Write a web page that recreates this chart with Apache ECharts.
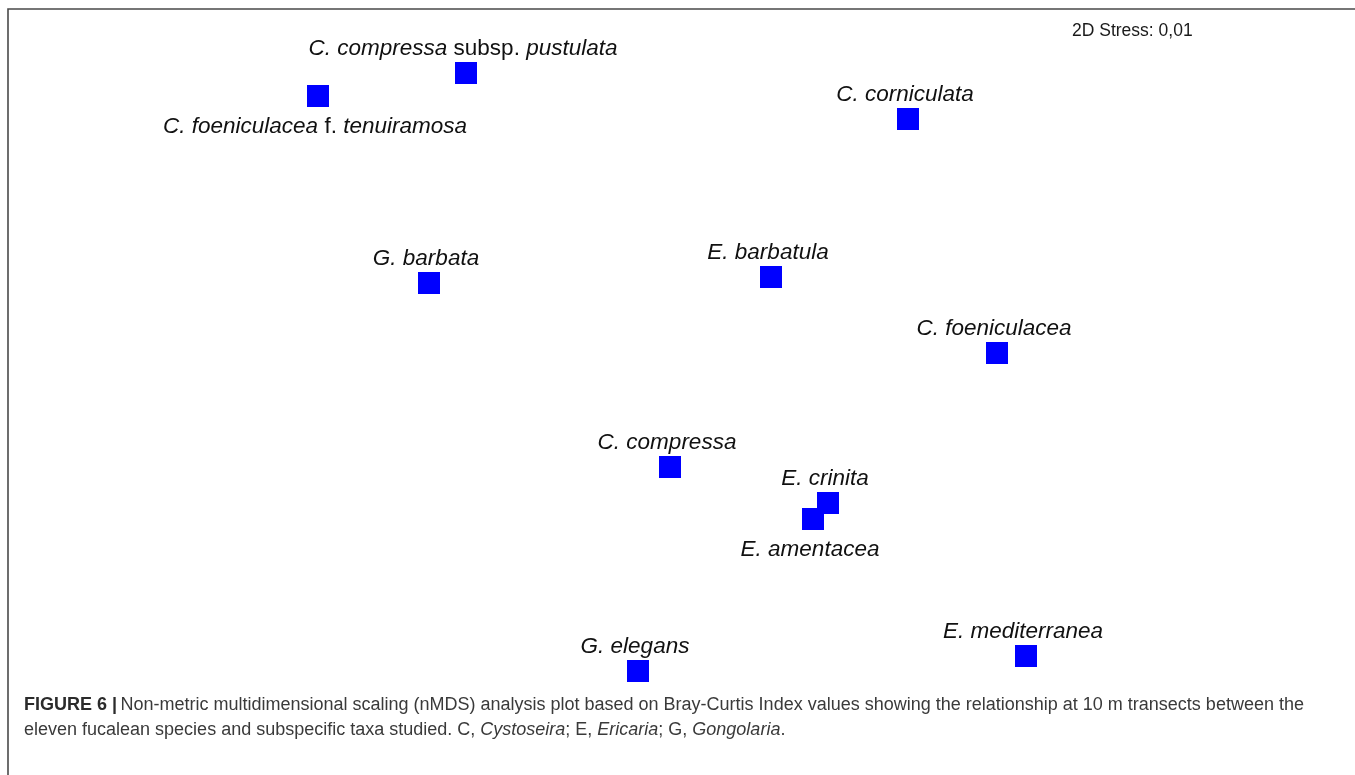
<!DOCTYPE html>
<html>
<head>
<meta charset="utf-8">
<title>nMDS fucalean species</title>
<script src="https://cdn.jsdelivr.net/npm/echarts@6/dist/echarts.min.js"></script>
<style>
  html, body { margin: 0; padding: 0; background: #fff; }
  #chart { width: 1355px; height: 775px; }
</style>
</head>
<body>
<div id="chart"></div>
<script>
// nMDS ordination scores (Bray-Curtis, 10 m transects)
const taxa = [
  'C. foeniculacea f. tenuiramosa',
  'C. compressa subsp. pustulata',
  'C. corniculata',
  'G. barbata',
  'E. barbatula',
  'C. foeniculacea',
  'C. compressa',
  'E. crinita',
  'E. amentacea',
  'G. elegans',
  'E. mediterranea'
];
const mds1 = [-0.664, -0.368, 0.516, -0.442, 0.242, 0.694, 0.040, 0.356, 0.326, -0.024, 0.752];
const mds2 = [0.588, 0.634, 0.542, 0.214, 0.226, 0.074, -0.154, -0.226, -0.258, -0.562, -0.532];
const stressText = '2D Stress: 0,01';

// taxa whose name is printed beneath the symbol
const labelsBelow = ['C. foeniculacea f. tenuiramosa', 'E. amentacea'];

// rank words stay upright, names in italics
function richName(name) {
  return name.split(' ').map(function (w) {
    return (w === 'subsp.' || w === 'f.') ? '{n|' + w + '}' : '{i|' + w + '}';
  }).join('{n| }');
}

const points = taxa.map(function (t, k) {
  const below = labelsBelow.indexOf(t) >= 0;
  return {
    name: t,
    value: [mds1[k], mds2[k]],
    label: {
      position: below ? 'bottom' : 'top',
      distance: below ? 8 : 2
    }
  };
});

const chart = echarts.init(document.getElementById('chart'), null, { renderer: 'canvas' });

const labelFont = "'Liberation Sans', Arial, sans-serif";
const capFont = "'Liberation Sans', Arial, sans-serif";

chart.setOption({
  backgroundColor: '#ffffff',
  animation: false,
  grid: { left: 150, top: 40, width: 1000, height: 700 },
  xAxis: { type: 'value', min: -1, max: 1, show: false },
  yAxis: { type: 'value', min: -0.7, max: 0.7, show: false },
  series: [{
    type: 'scatter',
    symbol: 'rect',
    symbolSize: 22,
    itemStyle: { color: '#0000ff', opacity: 1 },
    emphasis: { disabled: true },
    data: points,
    label: {
      show: true,
      color: '#111',
      offset: [-3, 0],
      formatter: function (p) { return richName(p.name); },
      rich: {
        i: { fontFamily: labelFont, fontSize: 22.5, fontStyle: 'italic', color: '#111' },
        n: { fontFamily: labelFont, fontSize: 22.5, color: '#111' }
      }
    }
  }],
  graphic: [
    {
      type: 'rect',
      shape: { x: 8, y: 9, width: 1400, height: 800 },
      style: { fill: null, stroke: '#4a4a4a', lineWidth: 1.6 },
      silent: true
    },
    {
      type: 'text',
      left: 1072,
      top: 22,
      style: {
        text: stressText,
        font: "17.5px 'Liberation Sans', Arial, sans-serif",
        fill: '#1a1a1a'
      }
    },
    {
      type: 'text',
      left: 24,
      top: 696,
      style: {
        text: '{b|FIGURE 6 |} {t|Non-metric multidimensional scaling (nMDS) analysis plot based on Bray-Curtis Index values showing the relationship at 10 m transects between the}\n' +
              '{t|eleven fucalean species and subspecific taxa studied. C, }{it|Cystoseira}{t|; E, }{it|Ericaria}{t|; G, }{it|Gongolaria}{t|.}',
        rich: {
          b: { font: "bold 18px " + capFont, fill: '#2b2b2b', lineHeight: 25 },
          t: { font: "18px " + capFont, fill: '#3a3a3a', lineHeight: 25 },
          it: { font: "italic 18px " + capFont, fill: '#3a3a3a', lineHeight: 25 }
        }
      }
    }
  ]
});
</script>
</body>
</html>
